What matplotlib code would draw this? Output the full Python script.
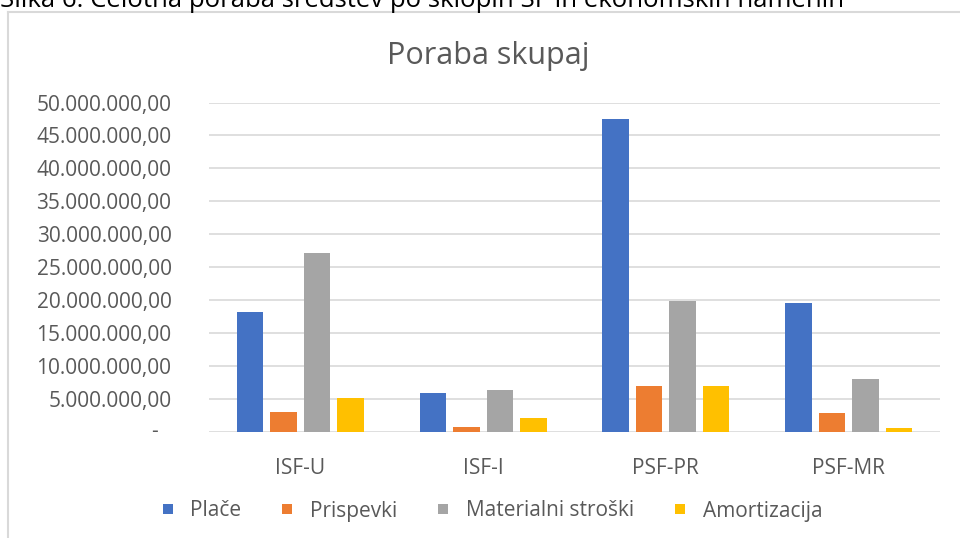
import matplotlib
matplotlib.use("Agg")
import numpy as np
from matplotlib import pyplot as plt
from matplotlib.lines import Line2D

plt.rcParams["font.family"] = ["Open Sans", "DejaVu Sans"]

caption = "Slika 6: Celotna poraba sredstev po sklopih SF in ekonomskih namenih"
title = "Poraba skupaj"
categories = ["ISF-U", "ISF-I", "PSF-PR", "PSF-MR"]
series_names = ["Plače", "Prispevki", "Materialni stroški", "Amortizacija"]
place = [18.2e6, 5.9e6, 47.45e6, 19.6e6]
prispevki = [3.0e6, 0.8e6, 7.0e6, 2.85e6]
materialni = [27.2e6, 6.4e6, 19.85e6, 8.05e6]
amortizacija = [5.15e6, 2.1e6, 7.0e6, 0.6e6]
y_ticks = [0, 5e6, 10e6, 15e6, 20e6, 25e6, 30e6, 35e6, 40e6, 45e6, 50e6]

colors = ["#4472C4", "#ED7D31", "#A5A5A5", "#FFC000"]
grid_color = "#D9D9D9"
text_color = "#595959"


def fmt(v):
    if v == 0:
        return ""
    s = f"{v:,.2f}"
    return s.replace(",", "X").replace(".", ",").replace("X", ".")


fig = plt.figure(figsize=(9.6, 5.38), dpi=100)
ax = fig.add_axes([209 / 960, 1 - 432 / 538, 731 / 960, 329.5 / 538])

x = np.arange(len(categories))
width = 0.145
pitch = 0.183
for i, (vals, name) in enumerate(zip([place, prispevki, materialni, amortizacija], series_names)):
    ax.bar(x + (i - 1.5) * pitch, vals, width, color=colors[i], label=name, zorder=3)

ax.set_xlim(-0.5, 3.5)
ax.set_ylim(0, 50e6)
ax.set_yticks(y_ticks, [fmt(v) for v in y_ticks])
ax.set_xticks(x, categories)
ax.tick_params(axis="both", length=0, colors=text_color, labelsize=15)
ax.tick_params(axis="y", pad=27)
ax.tick_params(axis="x", pad=19)
ax.annotate("-", xy=(0, 0), xycoords=("axes fraction", "data"), xytext=(-54, 0),
            textcoords="offset pixels", ha="center", va="center", color=text_color, fontsize=15)
for s in ax.spines.values():
    s.set_visible(False)
ax.grid(axis="y", color=grid_color, lw=1.2, zorder=0)
ax.set_axisbelow(True)

fig.text(488 / 960, 1 - 56 / 538, title, ha="center", va="center", fontsize=22, color=text_color)
fig.text(0.0, 1 - 7 / 538, caption, ha="left", va="baseline", fontsize=18.5, color="black")

# chart frame (left and top edges visible)
fig.add_artist(Line2D([8 / 960, 8 / 960], [0, 1 - 12 / 538], color=grid_color, lw=1.5))
fig.add_artist(Line2D([8 / 960, 1], [1 - 12 / 538, 1 - 12 / 538], color=grid_color, lw=1.5))

handles = [Line2D([0], [0], linestyle="", marker="s", markersize=7.5, markerfacecolor=c,
                  markeredgewidth=0) for c in colors]
fig.legend(handles, series_names, loc="center", bbox_to_anchor=(491 / 960, 1 - 511 / 538),
           ncol=4, frameon=False, fontsize=15, labelcolor=text_color,
           handlelength=0.8, handletextpad=0.7, columnspacing=1.8)

fig.savefig("out.png", dpi=100)
